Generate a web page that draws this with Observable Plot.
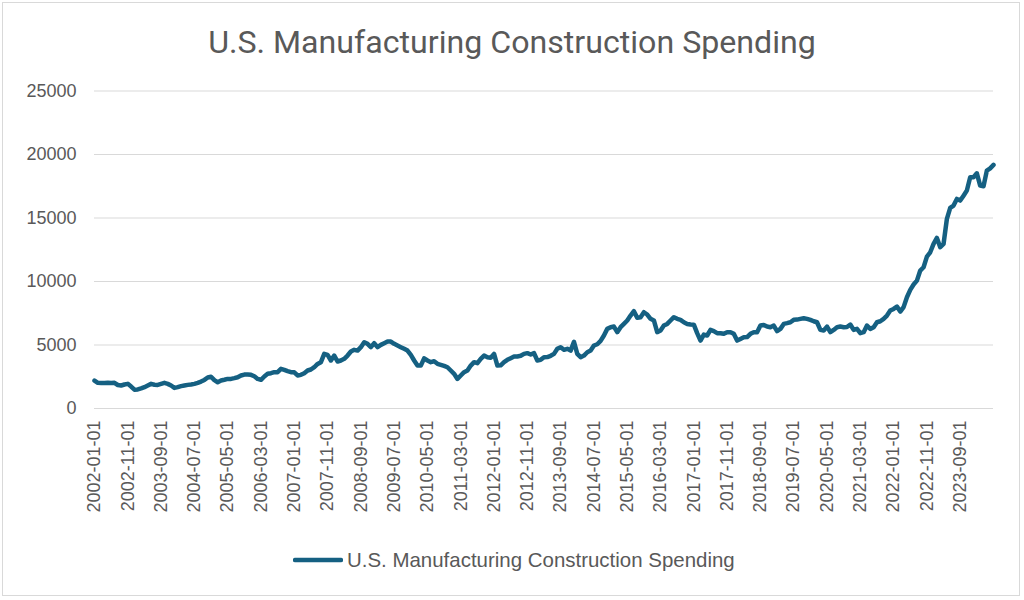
<!DOCTYPE html>
<html>
<head>
<meta charset="utf-8">
<script src="https://cdn.jsdelivr.net/npm/d3@7"></script>
<script src="https://cdn.jsdelivr.net/npm/@observablehq/plot@0.6"></script>
<style>
  body { margin: 0; background: #fff; }
  #chart { position: relative; width: 1024px; height: 600px; background: #fff; overflow: hidden; }
  #frame { position: absolute; left: 2px; top: 2px; width: 1018px; height: 594px; border: 1px solid #d9d9d9; box-sizing: border-box; }
  #title { position: absolute; left: 0; top: 26px; width: 1024px; text-align: center; color: #595959; font-family: "Roboto", sans-serif; font-size: 28px; line-height: 32px; white-space: nowrap; }
  #title span { display: inline-block; }
  #plot { position: absolute; left: 0; top: 60px; }
  #legend { position: absolute; left: 0; top: 545px; width: 1024px; height: 30px; }
  #legend svg { position: absolute; left: 293px; top: 0; }
  #legend span { position: absolute; left: 347px; top: 4px; color: #595959; font-family: "Liberation Sans", Arial, sans-serif; font-size: 18px; line-height: 22px; white-space: nowrap; }
</style>
</head>
<body>
<div id="chart">
  <div id="frame"></div>
  <div id="title"><span>U.S. Manufacturing Construction Spending</span></div>
  <div id="plot"></div>
  <div id="legend">
    <svg width="50" height="30"><line x1="2" y1="15" x2="48" y2="15" stroke="#156082" stroke-width="4.5" stroke-linecap="round"/></svg>
    <span>U.S. Manufacturing Construction Spending</span>
  </div>
</div>
<script>
const seriesName = "U.S. Manufacturing Construction Spending";
const firstMonth = "2002-01-01";
const lastMonth = "2024-07-01";
const spending = [
  2200, 2020, 2000, 2010, 2020, 2000, 2020, 1850, 1810, 1890, 1940, 1730,
  1480, 1500, 1580, 1680, 1810, 1940, 1870, 1860, 1940, 2020, 1940, 1810,
  1620, 1680, 1760, 1810, 1860, 1890, 1940, 2020, 2120, 2250, 2440, 2500,
  2230, 2070, 2200, 2260, 2330, 2330, 2390, 2460, 2600, 2670, 2680, 2650,
  2540, 2330, 2260, 2520, 2730, 2780, 2860, 2860, 3120, 3040, 2940, 2860,
  2850, 2600, 2650, 2780, 2990, 3070, 3250, 3510, 3650, 4300, 4220, 3780,
  4170, 3700, 3780, 3910, 4170, 4490, 4620, 4560, 4830, 5220, 5090, 4830,
  5140, 4830, 5010, 5140, 5270, 5270, 5090, 4960, 4830, 4700, 4560, 4220,
  3780, 3380, 3380, 3950, 3780, 3650, 3720, 3520, 3440, 3360, 3250, 2990,
  2730, 2330, 2600, 2860, 2990, 3380, 3650, 3570, 3910, 4170, 4040, 3990,
  4300, 3380, 3400, 3650, 3830, 3960, 4090, 4100, 4150, 4300, 4360, 4250,
  4360, 3780, 3830, 4040, 4050, 4150, 4300, 4700, 4830, 4620, 4700, 4560,
  5250, 4300, 4040, 4170, 4430, 4560, 4960, 5060, 5320, 5750, 6270, 6400,
  6450, 6010, 6400, 6660, 6930, 7320, 7660, 7140, 7190, 7580, 7400, 7060,
  6930, 6010, 6140, 6530, 6660, 6930, 7190, 7060, 6980, 6790, 6660, 6610,
  6600, 5930, 5350, 5820, 5750, 6190, 6090, 5930, 5930, 5880, 6010, 6010,
  5880, 5350, 5480, 5610, 5620, 5880, 6010, 6010, 6530, 6580, 6450, 6400,
  6530, 6090, 6270, 6660, 6720, 6790, 6980, 7000, 7060, 7110, 7060, 6980,
  6870, 6790, 6190, 6140, 6450, 6010, 6190, 6400, 6450, 6400, 6420, 6610,
  6190, 6270, 5930, 6010, 6530, 6270, 6400, 6790, 6870, 7060, 7320, 7710,
  7840, 8030, 7630, 7980, 8760, 9340, 9760, 10070, 10860, 11120, 11960, 12300,
  12960, 13430, 12700, 12960, 14930, 15800, 15980, 16500, 16370, 16760, 17160, 18210,
  18210, 18520, 17550, 17500, 18730, 18910, 19180
];
const xTickLabels = [
  "2002-01-01", "2002-11-01", "2003-09-01", "2004-07-01", "2005-05-01", "2006-03-01",
  "2007-01-01", "2007-11-01", "2008-09-01", "2009-07-01", "2010-05-01", "2011-03-01",
  "2012-01-01", "2012-11-01", "2013-09-01", "2014-07-01", "2015-05-01", "2016-03-01",
  "2017-01-01", "2017-11-01", "2018-09-01", "2019-07-01", "2020-05-01", "2021-03-01",
  "2022-01-01", "2022-11-01", "2023-09-01"
];
const yTicks = [0, 5000, 10000, 15000, 20000, 25000];

const fmt = d3.utcFormat("%Y-%m-%d");
const months = d3.utcMonth.range(new Date(firstMonth), d3.utcMonth.offset(new Date(lastMonth), 1)).map(fmt);
const data = months.map((m, i) => ({month: m, value: spending[i]}));

const chart = Plot.plot({
  width: 1024,
  height: 470,
  marginTop: 30.5,
  marginBottom: 122,
  marginLeft: 94,
  marginRight: 31,
  style: {fontFamily: "'Liberation Sans', Arial, sans-serif", fontSize: "18px", color: "#595959", background: "transparent"},
  x: {type: "point", domain: months, padding: 0},
  y: {domain: [0, 25000]},
  marks: [
    Plot.gridY(yTicks, {stroke: "#d9d9d9", strokeOpacity: 1, strokeWidth: 1}),
    Plot.axisY(yTicks, {tickSize: 0, tickPadding: 18, tickFormat: d => String(d), label: null, fontSize: 18}),
    Plot.axisX({ticks: xTickLabels, tickSize: 0, tickPadding: 12, tickRotate: -90, label: null, fontSize: 18}),
    Plot.line(data, {x: "month", y: "value", stroke: "#156082", strokeWidth: 4.5, strokeLinejoin: "round", strokeLinecap: "round"})
  ]
});
document.getElementById("plot").appendChild(chart);

function fitWidth(el, target) {
  const w = el.getBoundingClientRect().width;
  const fs = parseFloat(getComputedStyle(el).fontSize);
  el.style.fontSize = (fs * target / w) + "px";
}
fitWidth(document.querySelector("#title span"), 608);
fitWidth(document.querySelector("#legend span"), 388);
</script>
</body>
</html>
